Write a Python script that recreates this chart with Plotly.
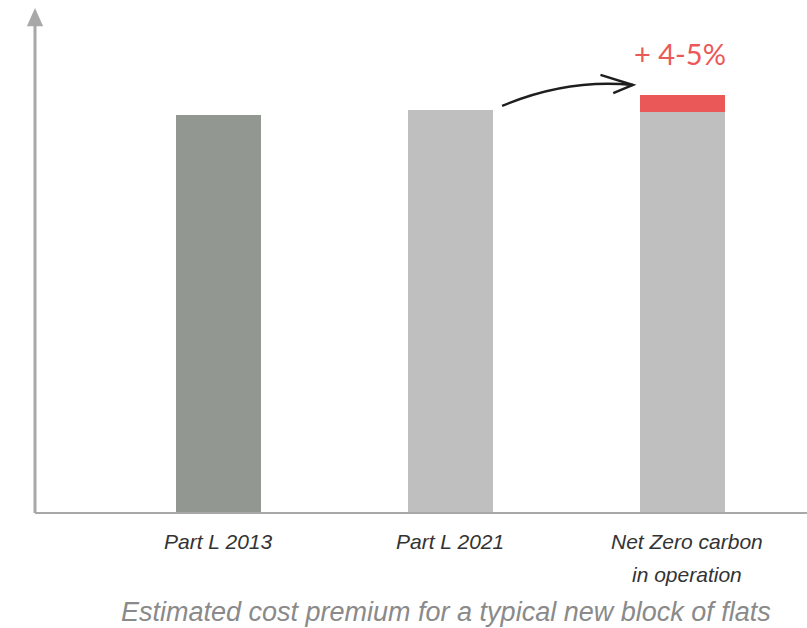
import plotly.graph_objects as go

# Relative build cost (Part L 2021 = 100)
categories = ["Part L 2013", "Part L 2021", "Net Zero carbon"]
label_second_line = ["", "", "in operation"]
base_cost = [98.8, 100.0, 99.5]
premium = [0.0, 0.0, 4.2]
premium_label = "+ 4-5%"
caption = "Estimated cost premium for a typical new block of flats"

x_pos = list(range(len(categories)))
bar_colors = ["#939792", "#bfbfbf", "#bfbfbf"]
RED = "#eb5858"
AXIS_GREY = "#a8a8a8"
BAR_W = 0.366
X_RANGE = [-0.79, 2.537]
Y_RANGE = [0, 125.3]

fig = go.Figure()
fig.add_trace(go.Bar(x=x_pos, y=base_cost, width=BAR_W,
                     marker=dict(color=bar_colors, line=dict(width=0)),
                     hoverinfo="skip"))
fig.add_trace(go.Bar(x=x_pos, y=premium, width=BAR_W,
                     marker=dict(color=RED, line=dict(width=0)),
                     hoverinfo="skip"))

shapes = []
# axes drawn as plain lines, with an arrowhead on the vertical one
shapes.append(dict(type="line", xref="paper", yref="paper", x0=0, x1=1, y0=0, y1=0,
                   line=dict(color=AXIS_GREY, width=2)))
shapes.append(dict(type="line", xref="paper", yref="paper", x0=0, x1=0, y0=0, y1=0.97,
                   line=dict(color=AXIS_GREY, width=3)))
shapes.append(dict(type="path", xref="paper", yref="paper",
                   path="M -0.0105,0.964 L 0.0105,0.964 L 0,1.0 Z",
                   fillcolor=AXIS_GREY, line=dict(width=0)))

# curved arrow from the 2021 bar to the net-zero premium
x0 = x_pos[1] + BAR_W / 2 + 0.04
y0 = base_cost[1] + 1.0
x1 = x_pos[2] - BAR_W / 2 - 0.03
y1 = base_cost[2] + premium[2] + 2.5
cx, cy = x0 + 0.28, y1 + 1.6
shapes.append(dict(type="path", xref="x", yref="y",
                   path=f"M {x0},{y0} Q {cx},{cy} {x1},{y1}",
                   line=dict(color="#1e1e1e", width=2.4)))
shapes.append(dict(type="path", xref="x", yref="y",
                   path=f"M {x1-0.14},{y1+2.5} L {x1},{y1} L {x1-0.085},{y1-2.0}",
                   line=dict(color="#1e1e1e", width=2.4)))

annotations = []
label_font = dict(family="Liberation Sans Narrow, Arial Narrow, Liberation Sans", size=21,
                  color="#333333")
for xi, (l1, l2) in enumerate(zip(categories, label_second_line)):
    xs = 5 if l2 else 0
    annotations.append(dict(x=xi, y=0, xref="x", yref="y", text=f"<i>{l1}</i>",
                            showarrow=False, yanchor="middle", yshift=-28, xshift=xs,
                            font=label_font))
    if l2:
        annotations.append(dict(x=xi, y=0, xref="x", yref="y", text=f"<i>{l2}</i>",
                                showarrow=False, yanchor="middle", yshift=-61, xshift=xs,
                                font=label_font))

annotations.append(dict(x=x_pos[2], y=base_cost[2] + premium[2], xref="x", yref="y",
                        text=premium_label, showarrow=False, yanchor="bottom", yshift=22,
                        xshift=-2,
                        font=dict(family="Lato, Open Sans, sans-serif", size=29, color=RED)))

annotations.append(dict(x=0.532, y=0, xref="paper", yref="paper", text=f"<i>{caption}</i>",
                        showarrow=False, yanchor="middle", yshift=-99,
                        font=dict(family="Liberation Sans, Arial", size=27, color="#8a8a8a")))

fig.update_layout(
    width=807, height=628,
    margin=dict(l=35, r=0, t=8, b=115),
    barmode="stack", bargap=0,
    showlegend=False,
    plot_bgcolor="white", paper_bgcolor="white",
    xaxis=dict(range=X_RANGE, showgrid=False, zeroline=False, showline=False,
               showticklabels=False, ticks=""),
    yaxis=dict(range=Y_RANGE, showgrid=False, zeroline=False, showline=False,
               showticklabels=False, ticks=""),
    shapes=shapes,
    annotations=annotations,
)

fig.write_html("out.html")
